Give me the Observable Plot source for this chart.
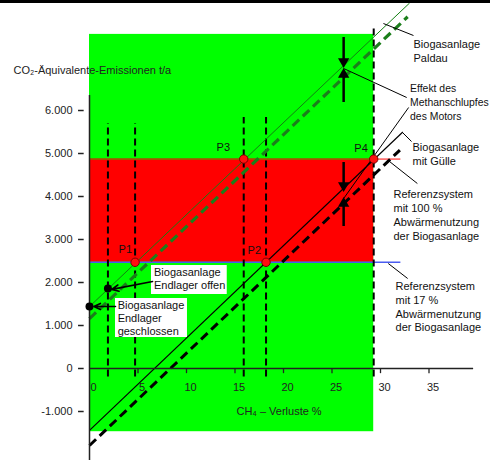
<!DOCTYPE html>
<html><head><meta charset="utf-8">
<script src="https://cdn.jsdelivr.net/npm/d3@7"></script>
<script src="https://cdn.jsdelivr.net/npm/@observablehq/plot@0.6"></script>
<style>
body{margin:0;background:#fff;}
#wrap{position:relative;width:490px;height:465px;overflow:hidden;background:#fff;}
#wrap svg{display:block;}
#bar{position:absolute;left:0;top:0;width:490px;height:3px;background:#000;}
</style></head><body><div id="wrap"></div>
<script>
// ---- data (x: CH4-Verluste %, y: CO2-Äquivalente-Emissionen t/a) ----
const lossTicks = [5, 10, 15, 20, 25, 30, 35];
const lossTickLabels = ["0", "5", "10", "15", "20", "25", "30", "35"];
const lossLabelValues = [0, 5, 10, 15, 20, 25, 30, 35];
const emissionTicks = [-1000, 0, 1000, 2000, 3000, 4000, 5000, 6000];

// reference systems (17 % and 100 % waste-heat use)
const refNames = ["Referenzsystem 17 %", "Referenzsystem 100 %"];
const refEmission = [2470, 4870];
const refLossEnd = 32.1;

// range of CH4 losses considered (green/red background)
const lossRange = [0, 29.3];
const emissionRange = [-1470, 7770];

// plant lines
const paldauLoss = [0, 33];
const paldauEmission = [1440, 8500];
const paldauSlipLoss = [0, 32.8];
const paldauSlipEmission = [1160, 8180];
const guelleLoss = [0, 32.3];
const guelleEmission = [-1440, 5500];
const guelleSlipLoss = [0, 32];
const guelleSlipEmission = [-1790, 5080];

// intersection points
const pNames = ["P1", "P2", "P3", "P4"];
const pLoss = [4.7, 18.2, 15.9, 29.3];
const pEmission = [2470, 2470, 4870, 4870];

// storage variants
const storageNames = ["Endlager geschlossen", "Endlager offen"];
const storageLoss = [0, 1.9];
const storageEmission = [1440, 1860];

// vertical drop lines
const dropLoss = [1.9, 4.7, 15.9, 18.2, 29.3];
const dropTop = [5700, 5700, 5840, 5840, 7980];
const dropBottom = -200;

// engine methane slip effect arrows
const slipLoss = 26.2;
const slipDownFrom = [7698, 4791];
const slipDownTo = [7163, 4302];
const slipUpFrom = [6186, 3302];
const slipUpTo = [6791, 3791];
const slipDownHead = [7140, 4256];
const slipUpHead = [6837, 3837];

// annotation texts
const rightLabels = [
  "Biogasanlage\nPaldau",
  "Effekt des\nMethanschlupfes\ndes Motors",
  "Biogasanlage\nmit Gülle",
  "Referenzsystem\nmit 100 %\nAbwärmenutzung\nder Biogasanlage",
  "Referenzsystem\nmit 17 %\nAbwärmenutzung\nder Biogasanlage"
];
const rightLabelLoss = [33.4, 33.05, 33.3, 31.34, 31.55];
const rightLabelEmission = [7674, 6651, 5279, 4186, 2047];
const rightLabelSize = [11, 10.4, 11, 11, 11];

const leaderFrom = [[30.3, 8023], [26.2, 6977], [26.2, 3953], [32.27, 5488], [30.8, 4837], [30.8, 2442]];
const leaderTo = [[33.4, 7744], [32.7, 6302], [32.9, 6070], [33.2, 5279], [33.8, 4302], [32.8, 2093]];

const boxLabels = ["Biogasanlage\nEndlager offen", "Biogasanlage\nEndlager\ngeschlossen"];
const boxLoss1 = [6.39, 2.68];
const boxLoss2 = [14.2, 10.1];
const boxEm1 = [1721, 721];
const boxEm2 = [2395, 1628];
const boxTextLoss = [6.65, 2.9];
const boxTextEm = [2372, 1605];
const boxArrowFrom = [[6.5, 2023], [2.68, 1442]];
const boxArrowTo = [[2.3, 1840], [0.45, 1442]];

const pLabelLoss = [3.0, 16.3, 13.1, 27.3];
const pLabelEm = [2767, 2744, 5140, 5116];

const yTitle = "CO₂-Äquivalente-Emissionen t/a";
const yTitlePos = [-7.84, 6930];
const xTitle = "CH₄ – Verluste %";
const xTitlePos = [15.15, -1000];

// ---- build tables ----
const seg = (xs, ys) => [{x1: xs[0], y1: ys[0], x2: xs[1], y2: ys[1]}];
const pts = pNames.map((n, i) => ({n, x: pLoss[i], y: pEmission[i], lx: pLabelLoss[i], ly: pLabelEm[i]}));
const storage = storageNames.map((n, i) => ({n, x: storageLoss[i], y: storageEmission[i]}));
const drops = dropLoss.map((x, i) => ({x, y1: dropBottom, y2: dropTop[i]}));
const right = rightLabels.map((t, i) => ({t, x: rightLabelLoss[i], y: rightLabelEmission[i], s: rightLabelSize[i]}));
const leaders = leaderFrom.map((f, i) => ({x1: f[0], y1: f[1], x2: leaderTo[i][0], y2: leaderTo[i][1]}));
const boxes = boxLabels.map((t, i) => ({t, x1: boxLoss1[i], x2: boxLoss2[i], y1: boxEm1[i], y2: boxEm2[i], tx: boxTextLoss[i], ty: boxTextEm[i]}));
const boxArrows = boxArrowFrom.map((f, i) => ({x1: f[0], y1: f[1], x2: boxArrowTo[i][0], y2: boxArrowTo[i][1]}));
const slipDown = slipDownFrom.map((v, i) => ({x: slipLoss, y1: v, y2: slipDownTo[i], h: slipDownHead[i]}));
const slipUp = slipUpFrom.map((v, i) => ({x: slipLoss, y1: v, y2: slipUpTo[i], h: slipUpHead[i]}));

const de = d3.formatLocale({decimal: ",", thousands: ".", grouping: [3], currency: ["", "€"], minus: "-"});
const fmt = de.format(",d");

const rightText = (d) => Plot.text([d], {x: "x", y: "y", text: "t", textAnchor: "start", lineAnchor: "top", lineHeight: 13.75 / d.s, fill: "#111", fontSize: d.s});

const chart = Plot.plot({
  width: 490,
  height: 465,
  margin: 0,
  x: {domain: [0, 40], range: [89, 477], axis: null},
  y: {domain: [-2000, 8000], range: [454, 24], axis: null},
  style: {fontFamily: "'Liberation Sans', Arial, sans-serif", fontSize: "11px", background: "white", color: "#000"},
  marks: [
    // background zones
    Plot.rect([0], {x1: lossRange[0], x2: lossRange[1], y1: emissionRange[0], y2: emissionRange[1], fill: "#00ff00"}),
    Plot.rect([0], {x1: lossRange[0], x2: lossRange[1], y1: refEmission[0], y2: refEmission[1], fill: "#ff0000"}),
    // reference lines
    Plot.ruleY([refEmission[0]], {x1: 0, x2: refLossEnd, stroke: "#4a5cf0", strokeWidth: 1.5}),
    Plot.ruleY([refEmission[1]], {x1: lossRange[1], x2: refLossEnd, stroke: "#ff5a5a", strokeWidth: 1.5}),
    Plot.ruleY([refEmission[1]], {x1: 0, x2: lossRange[1], stroke: "#8a6a00", strokeWidth: 1.5}),
    // vertical dashed drop lines
    Plot.ruleX(drops, {x: "x", y1: "y1", y2: "y2", stroke: "#000", strokeWidth: 2, strokeDasharray: "7,4"}),
    // plant lines
    Plot.link(seg(paldauLoss, paldauEmission), {x1: "x1", y1: "y1", x2: "x2", y2: "y2", stroke: "#128012", strokeWidth: 1}),
    Plot.link(seg(paldauSlipLoss, paldauSlipEmission), {x1: "x1", y1: "y1", x2: "x2", y2: "y2", stroke: "#1b7f1b", strokeWidth: 3.2, strokeDasharray: "9,5"}),
    Plot.link(seg(guelleLoss, guelleEmission), {x1: "x1", y1: "y1", x2: "x2", y2: "y2", stroke: "#000", strokeWidth: 1.2}),
    Plot.link(seg(guelleSlipLoss, guelleSlipEmission), {x1: "x1", y1: "y1", x2: "x2", y2: "y2", stroke: "#000", strokeWidth: 3, strokeDasharray: "9,5"}),
    // axes
    Plot.ruleX([0], {y1: -2140, y2: 6350, stroke: "#222", strokeWidth: 1.5}),
    Plot.ruleY([0], {x1: 0, x2: 39.6, stroke: "#222", strokeWidth: 1.3}),
    Plot.ruleY(emissionTicks, {x1: -1.13, x2: -0.55, stroke: "#222", strokeWidth: 1.5}),
    Plot.text(emissionTicks, {x: -1.75, y: d => d, text: d => fmt(d), textAnchor: "end", fill: "#222", fontSize: 11}),
    Plot.ruleX(lossTicks, {y1: 0, y2: -120, stroke: "#222", strokeWidth: 1.3}),
    Plot.text(lossLabelValues, {x: d => d, y: -442, text: (d, i) => lossTickLabels[i], dx: 4, fill: "#222", fontSize: 11}),
    Plot.text([yTitle], {x: yTitlePos[0], y: yTitlePos[1], textAnchor: "start", fill: "#222", fontSize: 11}),
    Plot.text([xTitle], {x: xTitlePos[0], y: xTitlePos[1], textAnchor: "start", fill: "#222", fontSize: 11}),
    // slip effect arrows
    Plot.ruleX(slipDown, {x: "x", y1: "y1", y2: "y2", stroke: "#000", strokeWidth: 2.5}),
    Plot.ruleX(slipUp, {x: "x", y1: "y1", y2: "y2", stroke: "#000", strokeWidth: 2.5}),
    Plot.dot(slipDown, {x: "x", y: "h", symbol: "triangle", r: 4.2, fill: "#000", stroke: "none", rotate: 180}),
    Plot.dot(slipUp, {x: "x", y: "h", symbol: "triangle", r: 4.2, fill: "#000", stroke: "none"}),
    // leader lines
    Plot.link(leaders, {x1: "x1", y1: "y1", x2: "x2", y2: "y2", stroke: "#000", strokeWidth: 1}),
    // annotation boxes
    Plot.rect(boxes, {x1: "x1", x2: "x2", y1: "y1", y2: "y2", fill: "#fff"}),
    Plot.text(boxes, {x: "tx", y: "ty", text: "t", textAnchor: "start", lineAnchor: "top", lineHeight: 1.2, fill: "#111", fontSize: 11}),
    Plot.arrow(boxArrows, {x1: "x1", y1: "y1", x2: "x2", y2: "y2", stroke: "#000", strokeWidth: 1.6, headLength: 7, headAngle: 50}),
    // right labels
    ...right.map(rightText),
    // points
    Plot.dot(storage, {x: "x", y: "y", r: 4, fill: "#000", stroke: "none"}),
    Plot.dot(pts, {x: "x", y: "y", r: 4.2, fill: "#ff1010", stroke: "#7a0000", strokeWidth: 1}),
    Plot.text(pts, {x: "lx", y: "ly", text: "n", textAnchor: "start", fill: "#111", fontSize: 11})
  ]
});
const wrap = document.getElementById("wrap");
wrap.appendChild(chart);
const bar = document.createElement("div");
bar.id = "bar";
wrap.appendChild(bar);
</script>
</body></html>
